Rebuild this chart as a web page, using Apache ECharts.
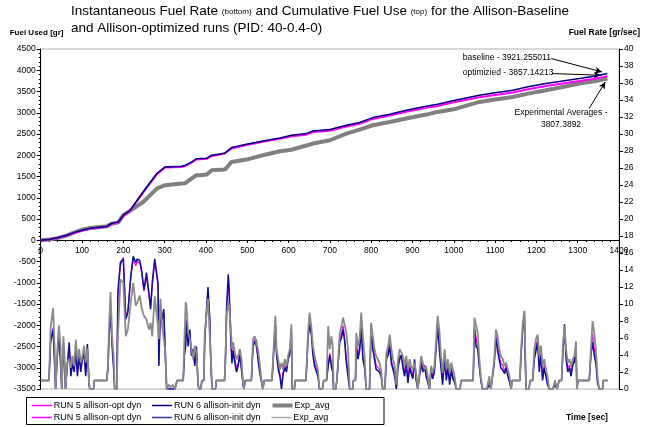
<!DOCTYPE html>
<html>
<head>
<meta charset="utf-8">
<script src="https://cdn.jsdelivr.net/npm/echarts@6/dist/echarts.min.js"></script>
<style>html,body{margin:0;padding:0;background:#fff;}#c{width:646px;height:427px;}</style>
</head>
<body>
<div id="c"></div>
<script>
// ---- Data ----
// Cumulative fuel use [gr] (left axis)
const cumTime = [0,20,40,63,80,100,120,160,172,188,200,216,248,281,301,341,349,365,377,385,402,414,434,446,462,498,538,579,607,643,659,700,740,772,804,845,885,933,961,1000,1062,1100,1143,1180,1223,1260,1304,1340,1372];
const cumRun6 = [0,20,60,118,180,235,280,325,400,430,590,700,1140,1570,1725,1740,1760,1840,1920,1922,1930,2000,2030,2055,2180,2260,2337,2408,2470,2510,2573,2604,2706,2769,2886,2965,3059,3153,3200,3290,3412,3470,3530,3610,3686,3740,3804,3860,3921];
const cumRun5 = [0,18,55,110,170,225,270,318,390,420,580,690,1120,1550,1710,1725,1745,1825,1900,1905,1915,1985,2015,2040,2160,2240,2315,2385,2445,2485,2548,2578,2678,2740,2855,2932,3024,3115,3160,3245,3365,3420,3478,3555,3630,3685,3745,3800,3857];
const cumExp  = [0,15,50,110,180,250,290,330,390,420,590,690,900,1215,1295,1335,1340,1450,1530,1530,1545,1650,1660,1663,1843,1898,2000,2094,2130,2230,2275,2353,2510,2604,2706,2784,2863,2957,3020,3080,3255,3310,3372,3450,3530,3600,3687,3740,3807];

// Instantaneous fuel rate [gr/sec] (right axis)
const rateTime = [0,10,20,24,30,34,36,40,44,48,51,55,58,60,64,69,73,77,81,85,89,93,97,101,105,109,113,117,119,128,130,160,163,165,169,173,177,179,184,187,193,200,206,211,218,224,230,234,240,244,250,256,262,266,270,276,280,284,286,290,294,298,302,305,310,315,320,325,330,345,348,351,353,357,361,365,369,373,377,381,383,388,390,395,397,401,405,409,412,415,423,425,445,447,450,454,456,460,463,466,470,474,478,482,486,490,492,495,510,514,518,522,526,530,534,538,541,560,563,568,571,575,579,583,587,591,595,599,603,607,609,614,616,642,645,647,651,655,659,663,667,671,675,682,685,692,696,700,704,707,709,714,717,721,724,728,732,736,740,744,748,755,757,762,764,768,772,776,780,784,788,796,800,804,808,812,816,820,824,828,833,837,841,845,849,853,857,861,865,869,873,877,881,885,889,893,897,901,905,909,913,917,921,925,929,933,937,941,945,949,953,957,961,965,969,973,978,982,986,990,994,998,1002,1006,1015,1018,1047,1050,1054,1058,1062,1066,1070,1080,1086,1090,1094,1098,1102,1106,1110,1114,1119,1123,1127,1131,1135,1139,1141,1160,1163,1167,1171,1173,1175,1182,1185,1191,1195,1199,1203,1207,1211,1215,1219,1223,1227,1231,1240,1245,1250,1255,1261,1264,1268,1272,1276,1280,1284,1288,1292,1296,1298,1301,1328,1332,1336,1340,1344,1348,1352,1360,1362,1372];
const rateExp = [1,1,1,7.2,9.5,4.7,0,4.3,7.5,5.0,0,6.2,3.5,0,3.1,3.5,2.5,3.9,2.7,5.8,3.5,4.7,3.1,3.9,5.1,3.1,4.8,0.7,0,0,1,1,3.0,6.8,11.4,6.2,3.5,0,0,6.2,12.9,12.5,6.2,7.0,10.2,12.5,9.8,10.2,11.0,9.6,8.6,8.2,7.0,7.8,6.2,10.9,10.9,7.4,5.9,10.6,7.4,5.9,4.3,0,0.5,0.2,0.5,0,1,1,6.0,10.2,9.8,6.6,5.9,4.7,3.5,5.1,4.3,0.7,0,0,1,1,6.6,8.6,10.6,6.6,3.5,0,0,1,1,3.0,8.6,10.2,9.8,7.4,4.7,5.5,4.3,3.5,3.9,4.7,3.5,0.7,0,1,1,5.9,6.2,6.4,4.7,3.1,1.2,0,1,1,4.0,8.6,4.7,3.5,2.3,3.1,2.3,3.5,2.7,3.9,4.7,7.6,0,0,1,1,4.0,6.6,9.0,7.4,5.1,3.9,3.1,2.3,0,0,1,1,7.4,4.7,6.2,5.0,0,0,1,1,6.6,7.4,8.4,8.6,6.6,4.7,0,0,1,1,6.6,5.0,5.9,9.0,6.2,3.9,0,0,7.8,6.2,4.7,3.9,3.5,3.1,2.3,0,0,4.3,5.0,6.4,4.7,3.5,2.7,0.5,3.5,4.7,4.7,3.9,2.7,3.9,2.3,3.5,2.7,2.3,3.1,1.9,0,0,3.9,3.1,2.3,2.7,1.5,0,2.7,1.9,2.7,5.5,8.6,7.0,3.9,1.9,4.7,2.3,3.5,1.9,3.1,2.3,1.5,0,0,1,1,8.4,8.2,6.6,3.5,1.2,0,0,1.5,0,0,3.5,7.0,6.2,4.7,3.9,3.5,2.7,3.1,2.3,1.5,0,1,1,4.7,7.8,9.2,4.7,0,0,1,1,4.7,5.9,6.4,3.9,5.1,2.7,3.5,2.3,1.5,0,0,1.0,0,1,1,5.1,7.4,4.7,3.1,3.5,2.7,3.5,3.9,5.6,0,1,1,4.7,8.0,6.6,4.7,1.5,0,0,1,1];
const rateRun6 = [1,1,1,5.5,7.0,2.5,0,3.5,6.8,3.0,0,5.0,2.5,0,2.5,5.5,1.5,3.0,2.0,4.5,1.5,4.0,2.0,3.5,4.2,1.5,5.3,0.5,0,0,1,1,2.5,5.5,9.5,5.0,2.0,0,0,11.5,14.9,15.3,8.2,9.0,13.3,15.6,14.9,15.3,15.1,14.1,11.7,13.7,11.3,9.4,12.5,15.3,15.1,12.5,2.7,9.8,8.2,9.4,3.5,0,0,0,0,0,1,1,4.0,5.0,8.0,5.0,7.0,3.9,4.7,2.7,5.0,0.5,0,0,1,1,5.5,9.0,12.0,8.6,2.7,0,0,1,1,3.0,9.5,13.5,12.1,5.9,3.0,4.5,3.1,2.0,2.7,4.0,2.3,0.5,0,1,1,5.0,5.5,5.8,3.5,2.0,1.0,0,1,1,3.5,7.8,4.0,2.3,1.5,0,1.8,2.5,2.0,3.5,4.0,6.5,0,0,1,1,3.5,6.0,7.5,6.5,4.0,2.7,2.5,1.5,0,0,1,1,2.7,4.0,2.5,2.0,0,0,1,1,5.5,6.0,7.0,5.5,3.1,1.5,0,0,1,1,5.0,3.5,4.5,7.0,3.5,2.5,0,0,7.4,4.7,3.5,2.3,2.5,2.0,1.5,0,0,3.5,4.0,5.0,3.0,2.3,1.5,0,2.5,3.5,4.0,2.5,1.5,3.0,0.7,2.5,1.8,1.2,3.5,1.0,0,0,3.0,2.0,2.8,1.5,0.8,0,2.0,1.2,2.0,4.5,7.5,4.7,2.5,0.5,3.5,1.0,2.5,0.5,2.2,1.2,0.8,0,0,1,1,7.0,5.0,4.7,2.5,0.8,0,0,0.5,0,0,3.0,6.0,4.5,3.5,2.5,2.2,1.8,2.5,1.5,0.8,0,1,1,4.0,7.0,9.0,3.5,0,0,1,1,3.5,4.5,5.5,2.0,4.0,1.0,2.5,1.5,0.5,0,0,0.5,0,1,1,4.0,7.6,3.5,2.0,2.5,1.5,2.8,3.2,5.0,0,1,1,4.0,5.5,4.0,3.0,0.8,0,0,1,1];
const rateRun5 = [1,1,1,5.8,7.2,3.0,0,3.8,7.0,3.5,0,5.3,2.8,0,2.7,5.0,2.0,3.3,2.2,4.8,2.0,4.2,2.5,3.8,4.5,2.0,5.0,0.5,0,0,1,1,2.8,6.0,10.0,5.5,2.5,0,0,11.0,14.5,15.5,8.5,9.2,13.0,15.3,14.5,15.0,14.8,13.8,11.5,13.2,11.0,9.6,12.0,15.0,14.8,12.2,3.0,10.0,8.0,9.0,3.7,0,0,0,0,0,1,1,4.5,5.5,8.2,5.5,6.5,4.0,4.5,3.0,4.8,0.5,0,0,1,1,5.8,8.8,11.5,8.2,3.0,0,0,1,1,3.0,9.0,12.5,11.5,6.5,3.5,4.8,3.5,2.5,3.0,4.2,2.5,0.5,0,1,1,5.2,5.8,6.0,3.8,2.3,1.0,0,1,1,3.7,8.0,4.3,2.8,1.8,0.5,2.0,2.8,2.2,3.6,4.3,7.0,0,0,1,1,3.8,6.2,8.0,6.8,4.5,3.0,2.6,1.8,0,0,1,1,3.0,4.2,3.0,2.5,0,0,1,1,5.8,6.5,7.5,6.0,3.5,2.0,0,0,1,1,5.5,4.0,5.0,7.5,4.0,3.0,0,0,7.5,5.0,4.0,2.8,2.8,2.3,1.8,0,0,3.8,4.3,5.5,3.5,2.5,2.0,0,3.0,4.0,4.2,3.0,2.0,3.3,1.0,2.8,2.2,1.5,3.2,1.2,0,0,3.3,2.5,2.5,2.0,1.0,0,2.3,1.5,2.2,5.0,8.0,5.5,3.0,1.0,4.0,1.5,2.8,1.0,2.5,1.5,1.0,0,0,1,1,7.5,6.0,5.0,2.8,1.0,0,0,1.0,0,0,3.2,6.5,5.0,4.0,3.0,2.8,2.0,2.8,1.8,1.0,0,1,1,4.2,7.2,8.8,4.0,0,0,1,1,4.0,5.0,5.8,2.5,4.5,1.5,2.8,1.8,1.0,0,0,1.0,0,1,1,4.5,7.0,4.0,2.5,2.8,2.0,3.0,3.5,5.2,0,1,1,4.2,6.5,4.8,3.5,1.0,0,0,1,1];

// Annotation arrows in data space [time, fuel used]: [from, to]
const annotationArrows = [
  [[1236, 4275], [1359, 3960]],
  [[1239, 3922], [1356, 3882]],
  [[1328, 3106], [1367, 3725]]
];
const annotationTexts = ['baseline - 3921.255011', 'optimizied - 3857.14213', 'Experimental Averages -', '3807.3892'];

const nameRun5 = 'RUN 5 allison-opt dyn';
const nameRun6 = 'RUN 6 allison-init dyn';
const nameExp = 'Exp_avg';
const ZW = '\u200b';

function pairs(t, v) { return t.map((x, i) => [x, v[i]]); }
const plain = v => String(v);

const FONT = "'Liberation Sans', Arial, sans-serif";
const chart = echarts.init(document.getElementById('c'), null, {renderer: 'canvas'});

const legendBase = {
  left: 31, padding: 0, orient: 'horizontal',
  itemWidth: 20, itemHeight: 8, itemGap: 10,
  itemStyle: {opacity: 0},
  textStyle: {fontFamily: FONT, fontSize: 9, color: '#000', padding: [0, 0, 0, -3]}
};

chart.setOption({
  animation: false,
  backgroundColor: '#fff',
  textStyle: {fontFamily: FONT},
  title: {
    text: 'Instantaneous Fuel Rate {s|(bottom)} and Cumulative Fuel Use {s|(top)} for the Allison-Baseline\nand Allison-optimized runs (PID: 40-0.4-0)',
    left: 71, top: 3, padding: 0,
    textStyle: {fontFamily: FONT, fontSize: 13.5, fontWeight: 'normal', color: '#000', lineHeight: 17,
      rich: {s: {fontFamily: FONT, fontSize: 8, color: '#000', lineHeight: 17}}}
  },
  grid: [
    {left: 40.7, right: 27, top: 49, bottom: 38, show: true, borderColor: '#b0b0b0', borderWidth: 1, outerBoundsMode: 'none'},
    {left: 40.7, right: 27, top: 49, bottom: 187, show: false, outerBoundsMode: 'none'}
  ],
  legend: [
    Object.assign({}, legendBase, {top: 401, data: [
      {name: nameRun5, lineStyle: {color: '#ff00ff', width: 1.5}},
      {name: nameRun6, lineStyle: {color: '#000080', width: 1.5}},
      {name: nameExp, lineStyle: {color: '#808080', width: 4}}
    ]}),
    Object.assign({}, legendBase, {top: 413, data: [
      {name: nameRun5 + ZW, lineStyle: {color: '#ff00ff', width: 1.5}},
      {name: nameRun6 + ZW, lineStyle: {color: '#3535a5', width: 1.5}},
      {name: nameExp + ZW, lineStyle: {color: '#a8a8a8', width: 1.5}}
    ]})
  ],
  xAxis: [
    {
      gridIndex: 0, type: 'value', min: 0, max: 1400, interval: 100,
      axisLine: {show: false}, axisTick: {show: false}, axisLabel: {show: false}, splitLine: {show: false}
    },
    {
      gridIndex: 1, type: 'value', min: 0, max: 1400, interval: 100, position: 'bottom',
      axisLine: {show: true, onZero: false, lineStyle: {color: '#000', width: 1}},
      axisTick: {show: true, length: 3, lineStyle: {color: '#000'}},
      minorTick: {show: true, splitNumber: 5, length: 2, lineStyle: {color: '#000'}},
      axisLabel: {fontFamily: FONT, fontSize: 8.5, color: '#000', margin: 6, formatter: plain},
      splitLine: {show: false}
    }
  ],
  yAxis: [
    {
      gridIndex: 0, type: 'value', min: -3500, max: 4500, interval: 500, position: 'left',
      name: 'Fuel Used [gr]', nameLocation: 'end', nameGap: 12,
      nameTextStyle: {fontFamily: FONT, fontSize: 8, fontWeight: 'bold', color: '#000', align: 'left', padding: [0, 0, 0, -31]},
      axisLine: {show: true, lineStyle: {color: '#000'}},
      axisTick: {show: true, length: 4, lineStyle: {color: '#000'}},
      minorTick: {show: true, splitNumber: 5, length: 2, lineStyle: {color: '#000'}},
      axisLabel: {fontFamily: FONT, fontSize: 8.5, color: '#000', margin: 5, formatter: plain},
      splitLine: {show: false}
    },
    {
      gridIndex: 0, type: 'value', min: 0, max: 40, interval: 2, position: 'right',
      name: 'Fuel Rate [gr/sec]', nameLocation: 'end', nameGap: 12,
      nameTextStyle: {fontFamily: FONT, fontSize: 8.5, fontWeight: 'bold', color: '#000', align: 'right', padding: [0, -21, 0, 0]},
      axisLine: {show: true, lineStyle: {color: '#000'}},
      axisTick: {show: true, length: 4, lineStyle: {color: '#000'}},
      axisLabel: {fontFamily: FONT, fontSize: 8.5, color: '#000', margin: 5, formatter: plain},
      splitLine: {show: false}
    },
    {
      gridIndex: 1, type: 'value', min: 0, max: 1, show: false
    }
  ],
  graphic: [
    {type: 'rect', shape: {x: 26.5, y: 397.5, width: 357.5, height: 27}, style: {fill: 'none', stroke: '#000', lineWidth: 1}, silent: true},
    {type: 'text', left: 462.7, top: 53, style: {text: annotationTexts[0], font: '8.5px ' + FONT, fill: '#000'}},
    {type: 'text', left: 462.7, top: 68, style: {text: annotationTexts[1], font: '8.5px ' + FONT, fill: '#000'}},
    {type: 'text', x: 561, y: 108, style: {text: annotationTexts[2], font: '8.5px ' + FONT, fill: '#000', align: 'center'}},
    {type: 'text', x: 561, y: 120, style: {text: annotationTexts[3], font: '8.5px ' + FONT, fill: '#000', align: 'center'}},
    {type: 'text', x: 587, y: 413, style: {text: 'Time [sec]', font: 'bold 8.5px ' + FONT, fill: '#000', align: 'center'}}
  ],
  series: [
    {name: nameExp, type: 'line', xAxisIndex: 0, yAxisIndex: 0, symbol: 'none', data: pairs(cumTime, cumExp),
      lineStyle: {color: '#808080', width: 4}, itemStyle: {color: '#808080'}, z: 3},
    {name: nameRun5, type: 'line', xAxisIndex: 0, yAxisIndex: 0, symbol: 'none', data: pairs(cumTime, cumRun5),
      lineStyle: {color: '#ff00ff', width: 2}, itemStyle: {color: '#ff00ff'}, z: 4},
    {name: nameRun6, type: 'line', xAxisIndex: 0, yAxisIndex: 0, symbol: 'none', data: pairs(cumTime, cumRun6),
      lineStyle: {color: '#000080', width: 1.5}, itemStyle: {color: '#000080'}, z: 5,
      markLine: {silent: true, symbol: ['none', 'arrow'], symbolSize: [5, 7], label: {show: false},
        lineStyle: {color: '#000', width: 1, type: 'solid'},
        data: annotationArrows.map(a => [{coord: a[0]}, {coord: a[1]}])}},
    {name: nameRun5 + ZW, type: 'line', xAxisIndex: 0, yAxisIndex: 1, symbol: 'none', data: pairs(rateTime, rateRun5),
      lineStyle: {color: '#ff00ff', width: 1.2}, itemStyle: {color: '#ff00ff'}, z: 2},
    {name: nameRun6 + ZW, type: 'line', xAxisIndex: 0, yAxisIndex: 1, symbol: 'none', data: pairs(rateTime, rateRun6),
      lineStyle: {color: '#101090', width: 1.5}, itemStyle: {color: '#3a3aa0'}, z: 2},
    {name: nameExp + ZW, type: 'line', xAxisIndex: 0, yAxisIndex: 1, symbol: 'none', data: pairs(rateTime, rateExp),
      lineStyle: {color: '#8a8a8a', width: 1.8}, itemStyle: {color: '#a8a8a8'}, z: 2}
  ]
});
</script>
</body>
</html>
